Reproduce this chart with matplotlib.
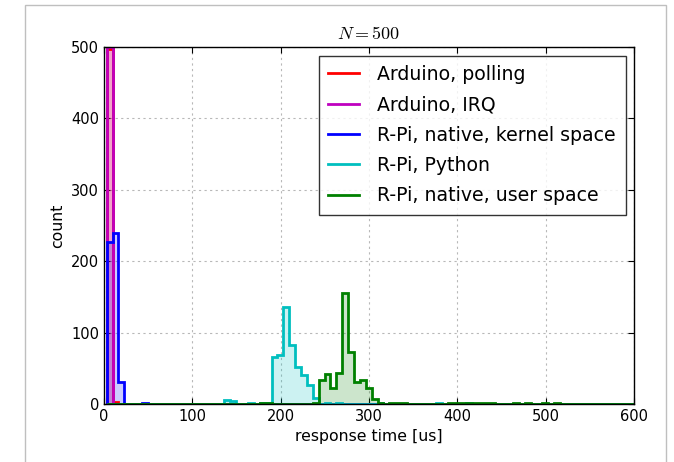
import numpy as np
import matplotlib
matplotlib.use("Agg")
import matplotlib.pyplot as plt
from matplotlib.patches import Rectangle

plt.rcParams["mathtext.fontset"] = "cm"

# common histogram bins: 90 bins of equal width starting at 3 us
bin_start = 3.0
bin_width = 600.0 / 90
n_bins = 90

labels = ["Arduino, polling", "Arduino, IRQ", "R-Pi, native, kernel space",
          "R-Pi, Python", "R-Pi, native, user space"]
colors = ["r", "m", "b", "c", "g"]

# counts per bin (bin index -> count)
arduino_polling = {0: 497, 1: 3}
arduino_irq = {0: 500}
rpi_kernel = {0: 227, 1: 240, 2: 31, 6: 2}
rpi_python = {20: 5, 21: 4, 24: 1, 26: 1, 27: 2, 28: 66, 29: 69, 30: 136, 31: 83,
              32: 52, 33: 41, 34: 27, 35: 8, 37: 1, 39: 1, 46: 1, 56: 1, 61: 1}
rpi_user = {26: 1, 27: 1, 35: 2, 36: 34, 37: 42, 38: 22, 39: 43, 40: 156, 41: 73,
            42: 31, 43: 34, 44: 22, 45: 7, 46: 1, 48: 2, 49: 1, 50: 2, 58: 1,
            59: 1, 60: 2, 61: 2, 62: 2, 63: 2, 64: 1, 65: 1, 69: 1, 71: 1, 74: 1, 76: 1}

series = [arduino_polling, arduino_irq, rpi_kernel, rpi_python, rpi_user]

edges = bin_start + bin_width * np.arange(n_bins + 1)

fig = plt.figure(figsize=(6.74, 4.62), dpi=100)
fig.patch.set_facecolor("white")
ax = fig.add_axes([104/674, 1 - 404/462, 530/674, 357/462])

for data, c, lab in zip(series, colors, labels):
    counts = np.zeros(n_bins)
    for k, v in data.items():
        counts[k] = v
    ax.hist(edges[:-1], bins=edges, weights=counts, histtype="stepfilled",
            color=c, alpha=0.2, lw=0)
    ax.hist(edges[:-1], bins=edges, weights=counts, histtype="step",
            color=c, lw=2)
    ax.plot([], [], color=c, lw=2, label=lab)

ax.set_xlim(0, 600)
ax.set_ylim(0, 500)
ax.set_xticks(range(0, 601, 100))
ax.set_yticks(range(0, 501, 100))
ax.tick_params(direction="in", top=True, right=True, labelsize=10.5, length=4)
ax.grid(True, color="0.72", linestyle=(0, (2, 3)), lw=0.8)
ax.set_axisbelow(True)
ax.set_xlabel("response time [us]", fontsize=11.3)
ax.set_ylabel("count", fontsize=11.3)
ax.set_title(r"$N=500$", fontsize=13, pad=6)

leg = ax.legend(loc="upper right", fontsize=13.6, fancybox=False, handlelength=1.6,
                handletextpad=1.0, borderaxespad=0.45, labelspacing=0.6,
                borderpad=0.5)
leg.get_frame().set_edgecolor("black")
leg.get_frame().set_linewidth(1)

for sp in ax.spines.values():
    sp.set_linewidth(1)

# notebook output frame
fig.patches.append(Rectangle((25/674, -0.1), 641/674, 1.1 - 5/462, transform=fig.transFigure,
                             fill=False, edgecolor="0.75", lw=1))

fig.savefig("out.png", dpi=100)
